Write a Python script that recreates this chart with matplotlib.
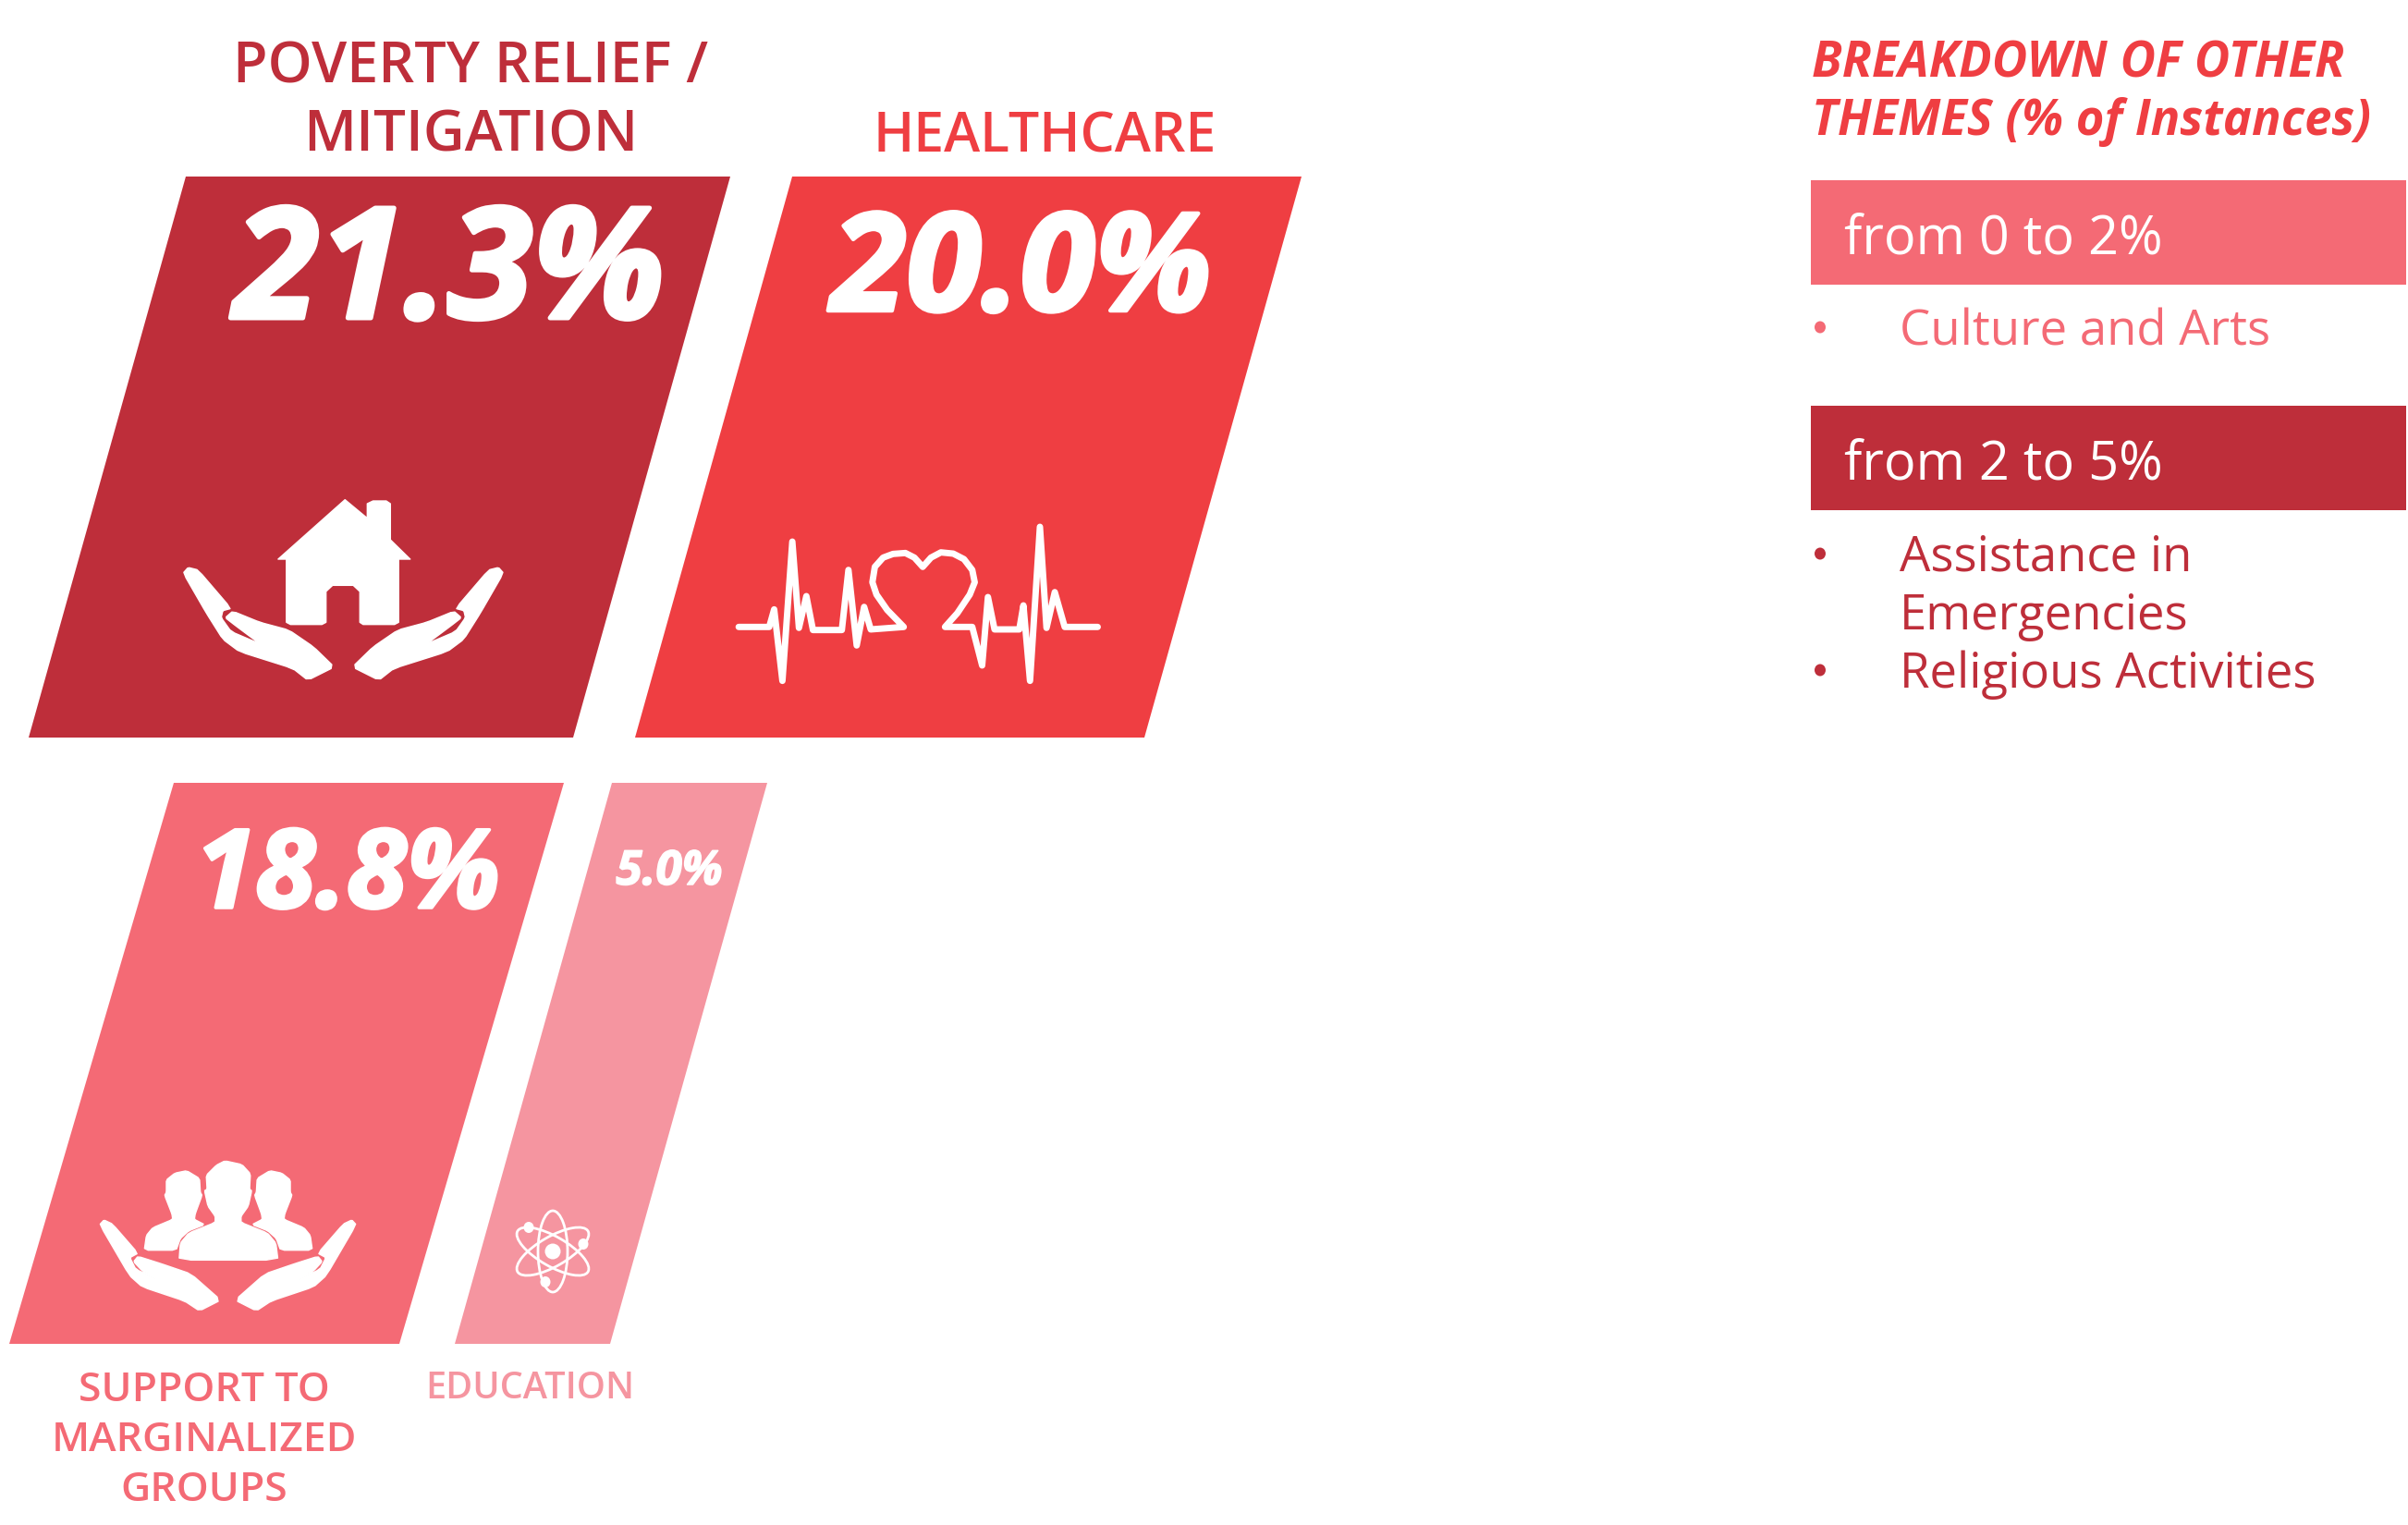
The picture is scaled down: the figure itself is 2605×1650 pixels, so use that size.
import matplotlib
matplotlib.use('Agg')
import matplotlib.pyplot as plt
from matplotlib.patches import Ellipse, Polygon, Rectangle
import matplotlib.patheffects as pe

# Data
theme_names = ['POVERTY RELIEF /\nMITIGATION', 'HEALTHCARE', 'SUPPORT TO\nMARGINALIZED\nGROUPS', 'EDUCATION']
theme_values = [21.3, 20.0, 18.8, 5.0]
theme_colors = ['#BE2E3A', '#EF3E42', '#F46A75', '#F595A0']

other_title = ['BREAKDOWN OF OTHER', 'THEMES (% of Instances)']
range_labels = ['from 0 to 2%', 'from 2 to 5%']
range_items = [['Culture and Arts'], ['Assistance in\nEmergencies', 'Religious Activities']]

# Layout in pixels of the 2605x1650 canvas
bar_left = [31, 687, 10, 492]
bar_bottom = [798, 798, 1454, 1454]
bar_width = [589, 551, 422, 168]
bar_height = 607
bar_skew = [170, 170, 178, 170]
value_x = [486, 1105, 376, 724]
value_y = [344, 336, 982, 957]
value_size = [120, 106, 85, 37]

plt.rcParams['font.family'] = ['Open Sans', 'DejaVu Sans']

fig = plt.figure(figsize=(26.05, 16.5), dpi=100)
ax = fig.add_axes([0, 0, 1, 1])
ax.set_xlim(0, 2605)
ax.set_ylim(1650, 0)
ax.axis('off')

# Slanted bars
for i in range(4):
    x0 = bar_left[i]
    y0 = bar_bottom[i]
    w = bar_width[i]
    s = bar_skew[i]
    ax.add_patch(Polygon([(x0, y0), (x0 + w, y0), (x0 + w + s, y0 - bar_height), (x0 + s, y0 - bar_height)],
                         closed=True, facecolor=theme_colors[i], edgecolor='none'))
    ax.text(value_x[i], value_y[i], f'{theme_values[i]:.1f}%', color='white', fontsize=value_size[i],
            fontweight='bold', style='italic', ha='center', va='baseline',
            path_effects=[pe.withStroke(linewidth=value_size[i] * 0.03, foreground='white')])

# Theme labels
ax.text(509, 74, 'POVERTY RELIEF /', color=theme_colors[0], fontsize=44, fontweight='semibold', ha='center', va='center')
ax.text(509, 147, 'MITIGATION', color=theme_colors[0], fontsize=44.5, fontweight='semibold', ha='center', va='center')
ax.text(1130, 149, theme_names[1], color=theme_colors[1], fontsize=42.5, fontweight='semibold', ha='center', va='center')
for line, y in zip(theme_names[2].split('\n'), [1505, 1559, 1613]):
    ax.text(221, y, line, color=theme_colors[2], fontsize=32, fontweight='semibold', ha='center', va='center')
ax.text(573, 1503, theme_names[3], color=theme_colors[3], fontsize=28.5, fontweight='semibold', ha='center', va='center')


def crop_points(points, ox, oy, sx, sy=3):
    return [(ox + x / sx, oy + y / sy) for x, y in points]


def soften(points):
    # one pass of corner cutting to round the traced outlines
    out = []
    for k in range(len(points)):
        x1, y1 = points[k]
        x2, y2 = points[(k + 1) % len(points)]
        out.append((0.88 * x1 + 0.12 * x2, 0.88 * y1 + 0.12 * y2))
        out.append((0.12 * x1 + 0.88 * x2, 0.12 * y1 + 0.88 * y2))
    return out


def draw_icon(points, ox, oy, sx, mirror=None, smooth=True):
    pts = points
    if mirror is not None:
        pts = [(2 * mirror - x, y) for x, y in points]
    if smooth:
        pts = soften(pts)
    ax.add_patch(Polygon(crop_points(pts, ox, oy, sx), closed=True, facecolor='white', edgecolor='white',
                         linewidth=1, joinstyle='round'))


house = [(418, 122), (445, 182), (445, 135), (452, 126), (468, 126), (473, 135), (473, 252), (497, 315), (483, 315),
         (483, 520), (478, 527), (440, 527), (436, 520), (436, 420), (428, 400), (403, 400), (395, 420), (395, 520),
         (390, 527), (352, 527), (347, 520), (347, 315), (337, 315)]
hand_a = [(222, 360), (228, 342), (240, 350), (280, 475), (270, 482), (268, 505), (280, 550), (315, 590), (285, 530),
          (273, 505), (282, 484), (315, 520), (350, 545), (380, 600), (405, 665), (373, 708), (355, 670), (290, 615),
          (270, 575), (250, 490)]
draw_icon(house, 0, 500, 1.12, smooth=False)
draw_icon(hand_a, 0, 500, 1.12)
draw_icon(hand_a, 0, 500, 1.12, mirror=416)

pulse = [(895, 535), (932, 535), (938, 478), (948, 710), (960, 258), (968, 538), (977, 435), (985, 545), (1020, 545),
         (1028, 350), (1038, 595), (1047, 470), (1055, 543), (1095, 535), (1075, 480), (1062, 430), (1057, 390),
         (1060, 340), (1070, 310), (1082, 298), (1097, 295), (1108, 310), (1118, 340), (1128, 310), (1140, 293),
         (1155, 297), (1168, 315), (1178, 350), (1181, 390), (1175, 430), (1160, 490), (1145, 535), (1178, 535),
         (1190, 660), (1197, 438), (1205, 543), (1235, 543), (1240, 465), (1248, 710), (1260, 210), (1268, 538),
         (1278, 422), (1290, 535), (1330, 535)]
pulse_pts = crop_points(pulse, 0, 500, 1.12)
ax.plot([p[0] for p in pulse_pts], [p[1] for p in pulse_pts], color='white', linewidth=5,
        solid_joinstyle='round', solid_capstyle='round')

hand_b = [(235, 285), (245, 270), (265, 283), (325, 378), (306, 392), (320, 430), (378, 467), (335, 435), (315, 405),
          (325, 388), (380, 412), (450, 445), (520, 530), (470, 565), (435, 533), (335, 487), (305, 450)]
person_mid = [(422, 400), (425, 345), (445, 312), (507, 278), (507, 258), (490, 225), (482, 175), (488, 170), (486, 125),
              (510, 92), (530, 78), (570, 90), (590, 120), (588, 170), (593, 175), (585, 225), (568, 258), (568, 278),
              (630, 312), (650, 345), (655, 400)]
person_side = [(340, 368), (345, 320), (360, 295), (407, 268), (405, 250), (388, 190), (392, 180), (392, 140), (412, 118),
               (440, 110), (470, 135), (472, 180), (476, 190), (460, 250), (458, 268), (482, 285), (445, 305), (425, 330),
               (415, 368)]
draw_icon(hand_b, 0, 1230, 2.178)
draw_icon(hand_b, 0, 1230, 2.178, mirror=537)
draw_icon(person_mid, 0, 1230, 2.178)
draw_icon(person_side, 0, 1230, 2.178)
draw_icon(person_side, 0, 1230, 2.178, mirror=538)

# Atom
ax.add_patch(Ellipse((598, 1354), 17, 17, facecolor='white', edgecolor='none'))
for angle in [0, 60, -60]:
    ax.add_patch(Ellipse((598, 1354), 32, 88, angle=angle, facecolor='none', edgecolor='white', linewidth=2))
for ex, ey in [(572, 1328), (631, 1346), (590, 1387)]:
    ax.add_patch(Ellipse((ex, ey), 11, 12, facecolor='white', edgecolor='none'))

# Right hand panel
ax.text(1960, 83, other_title[0], color=theme_colors[1], fontsize=38, fontweight='bold', style='italic', va='baseline')
ax.text(1960, 146, other_title[1], color=theme_colors[1], fontsize=37.8, fontweight='bold', style='italic', va='baseline')

box_y = [195, 439]
box_colors = [theme_colors[2], theme_colors[0]]
item_y = [[373], [618, 681, 744]]
for i in range(2):
    ax.add_patch(Rectangle((1959, box_y[i]), 644, 113, facecolor=box_colors[i], edgecolor='none'))
    ax.text(1995, box_y[i] + 80, range_labels[i], color='white', fontsize=41.5, fontweight='normal', va='baseline')
    lines = []
    for item in range_items[i]:
        parts = item.split('\n')
        for n, part in enumerate(parts):
            lines.append((part, n == 0))
    for (line, has_bullet), y in zip(lines, item_y[i]):
        ax.text(2055, y, line, color=box_colors[i], fontsize=38, fontweight='normal', va='baseline')
        if has_bullet:
            ax.add_patch(Ellipse((1969, y - 19), 12, 13, facecolor=box_colors[i], edgecolor='none'))

fig.savefig('out.png', dpi=100, facecolor='white')
